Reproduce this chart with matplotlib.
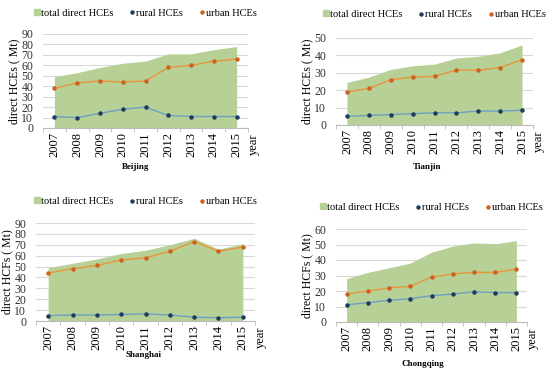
import matplotlib.pyplot as plt
from matplotlib.lines import Line2D
from matplotlib.patches import Patch

years = ["2007", "2008", "2009", "2010", "2011", "2012", "2013", "2014", "2015"]

beijing_total = [49, 53, 58, 62, 64, 71, 71, 75, 78]
beijing_urban = [38, 43, 45, 44, 45, 58, 60, 64, 66]
beijing_rural = [11, 10, 14, 18, 20, 12, 11, 11, 11]

tianjin_total = [24.5, 27.5, 32, 34, 35, 38.5, 39.5, 41.5, 46]
tianjin_urban = [19, 21, 26, 27.5, 28, 31.5, 31.5, 33, 37.5]
tianjin_rural = [5, 5.5, 6, 6.5, 7, 7, 8, 8, 8.5]

shanghai_total = [49, 53, 57, 62, 65, 70, 76, 66, 71]
shanghai_urban = [44, 48, 51, 56, 58, 64, 73, 64, 68]
shanghai_rural = [5, 5.5, 5.5, 6, 6.5, 5.5, 3.5, 3, 3.5]

chongqing_total = [28, 32, 35, 38, 45, 49, 51, 50.5, 52.5]
chongqing_urban = [18, 20, 22, 23, 29, 31, 32, 32, 34]
chongqing_rural = [11, 12.5, 14, 15, 17, 18, 19.5, 19, 19]

FILL = "#b6d096"
RURAL_LINE = "#6f9fc4"
RURAL_MK = "#1f3a5a"
URBAN_LINE = "#e8953c"
URBAN_MK = "#d0601e"

plt.rcParams["font.family"] = ["Liberation Serif", "DejaVu Serif"]

W, H = 550, 372
fig = plt.figure(figsize=(5.5, 3.72), dpi=100)


def panel(rect, total, urban, rural, ymax, step, city, ylabel, leg_y, title_xy):
    ax = fig.add_axes(rect)
    x = list(range(len(years)))
    ax.fill_between(x, total, 0, color=FILL, lw=0, zorder=2)
    ax.plot(x, rural, color=RURAL_LINE, lw=1.0, marker="o", ms=2.2,
            mfc=RURAL_MK, mec=RURAL_MK, zorder=3)
    ax.plot(x, urban, color=URBAN_LINE, lw=1.0, marker="o", ms=2.2,
            mfc=URBAN_MK, mec=URBAN_MK, zorder=3)
    ax.set_xlim(-0.5, 8.5)
    ax.set_ylim(0, ymax)
    ax.set_yticks(range(0, ymax + 1, step))
    ax.set_xticks(x)
    ax.set_xticklabels(years, rotation=90)
    ax.set_xticks([i + 0.5 for i in range(-1, 9)], minor=True)
    ax.tick_params(axis="x", which="major", length=0, labelsize=9, pad=3)
    ax.tick_params(axis="x", which="minor", length=3, color="#bbbbbb")
    ax.tick_params(axis="y", length=0, labelsize=8.5, pad=7, colors="#333333")
    ax.grid(axis="y", color="#d9d9d9", lw=0.8, zorder=1)
    for s in ["top", "right", "left"]:
        ax.spines[s].set_visible(False)
    ax.spines["bottom"].set_color("#bbbbbb")
    ax.set_ylabel(ylabel, fontsize=8.5, labelpad=1)
    ax.text(1.0, -0.06, "year", transform=ax.transAxes, rotation=90,
            fontsize=9, ha="left", va="top")
    fig.text(title_xy[0] / W, 1 - title_xy[1] / H, city, fontsize=6.5,
             fontweight="bold", ha="center", va="center")
    handles = [
        Patch(color=FILL, label="total direct HCEs"),
        Line2D([], [], ls="none", marker="o", ms=2.2, color=RURAL_MK, label="rural HCEs"),
        Line2D([], [], ls="none", marker="o", ms=2.2, color=URBAN_MK, label="urban HCEs"),
    ]
    ax.legend(handles=handles, loc="center", bbox_to_anchor=(0.5, leg_y), ncol=3,
              frameon=False, fontsize=7.5, handlelength=0.5, handleheight=0.5,
              handletextpad=0.1, columnspacing=1.6, borderaxespad=0)
    return ax


panel([43 / W, 1 - 128 / H, 205 / W, 94 / H], beijing_total, beijing_urban,
      beijing_rural, 90, 10, "Beijing", "direct HCEs ( Mt)", 1.22, (136, 167))
panel([336 / W, 1 - 125 / H, 197 / W, 87 / H], tianjin_total, tianjin_urban,
      tianjin_rural, 50, 10, "Tianjin", "direct HCEs ( Mt)", 1.27, (427, 167))
panel([36 / W, 1 - 321 / H, 219 / W, 98 / H], shanghai_total, shanghai_urban,
      shanghai_rural, 90, 10, "Shanghai", "direct HCFs ( Mt)", 1.22, (144, 355))
panel([336 / W, 1 - 322 / H, 191 / W, 93 / H], chongqing_total, chongqing_urban,
      chongqing_rural, 60, 10, "Chongqing", "direct HCFs ( Mt)", 1.23, (423, 364))

fig.savefig("out.png", dpi=100)
